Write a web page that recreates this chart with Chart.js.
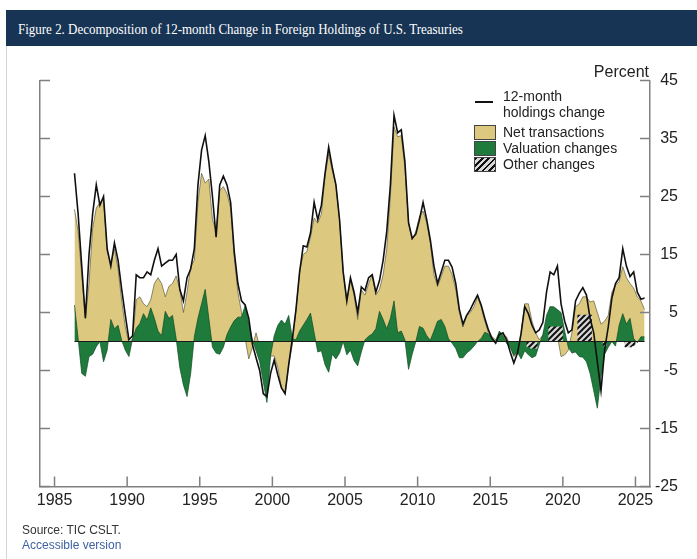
<!DOCTYPE html>
<html>
<head>
<meta charset="utf-8">
<script src="https://cdn.jsdelivr.net/npm/chart.js@4.4.1/dist/chart.umd.min.js"></script>
<style>
  body { margin: 0; width: 697px; height: 559px; position: relative; background: #fff; overflow: hidden; font-family: 'Liberation Sans', Arial, sans-serif; color: #222; }
  .card-edge { position: absolute; left: 6px; top: 10px; bottom: 0; width: 1px; background: #d4d4d4; }
  .header { position: absolute; left: 6px; top: 10px; right: 0; height: 36px; background: #173454; }
  .header span { position: absolute; left: 11.5px; top: 12.4px; font: 14.5px/14px 'Liberation Serif', 'DejaVu Serif', serif; color: #fff; white-space: nowrap; transform: scaleX(0.895); transform-origin: left top; }
  canvas { position: absolute; left: 0; top: 0; }
  .abs { position: absolute; white-space: nowrap; }
  .leg { font-size: 14px; line-height: 16px; color: #222; }
  .sw { position: absolute; left: 474px; width: 20px; height: 13px; border: 1px solid #444; }
  .percent { right: 48px; top: 63.5px; font-size: 16px; line-height: 16px; }
  .note { font-size: 12px; line-height: 14px; left: 22px; }
</style>
</head>
<body>
<div class="card-edge"></div>
<div class="header"><span>Figure 2. Decomposition of 12-month Change in Foreign Holdings of U.S. Treasuries</span></div>
<canvas id="chart" width="697" height="559"></canvas>

<div class="abs percent">Percent</div>

<div class="abs" style="left:475px; top:101.3px; width:18px; height:2px; background:#111;"></div>
<div class="abs leg" style="left:503px; top:87.9px;">12-month<br>holdings change</div>
<div class="sw" style="top:124.5px; background:#dcc97f;"></div>
<div class="abs leg" style="left:503px; top:123.8px;">Net transactions</div>
<div class="sw" style="top:140.5px; background:#1e7b3c;"></div>
<div class="abs leg" style="left:503px; top:139.8px;">Valuation changes</div>
<div class="sw" style="top:156.5px; background:repeating-linear-gradient(135deg, #111 0 2px, #d8d8d8 2px 4.5px);"></div>
<div class="abs leg" style="left:503px; top:156.1px;">Other changes</div>

<div class="abs note" style="top:523px; color:#333;">Source: TIC CSLT.</div>
<div class="abs note" style="top:537.5px; color:#3e62a0;">Accessible version</div>

<script>
// quarterly readings, first point mid-1986, last point mid-2025
const firstDate = 1986.375;

// 12-month holdings change, percent
const holdingsChange = [
  29, 22, 13,                 // 1986
  4, 15, 22, 27,              // 1987
  23.5, 25, 16, 13,           // 1988
  17, 14, 9, 4.5,             // 1989
  0.3, 1, 11.5, 11,           // 1990
  11, 12, 11.5, 14,           // 1991
  16, 13, 13.5, 14,           // 1992
  14, 15, 9, 7,               // 1993
  11, 12.5, 16, 27,           // 1994
  33, 35.5, 31, 25,           // 1995
  18, 27, 28.5, 27,           // 1996
  24, 15.5, 10, 7,            // 1997
  6.3, 4, -0.5, -2.8,         // 1998
  -5, -9, -9.5, -5.5,         // 1999
  -3.2, -5.8, -8, -9,         // 2000
  -4, 0.5, 5.5, 12,           // 2001
  16.5, 16.3, 18.7, 24,       // 2002
  21, 23.5, 29, 33.5,         // 2003
  30, 27, 21, 12,             // 2004
  7, 11, 8.5, 5,              // 2005
  9.4, 8.8, 11, 11.5,         // 2006
  8.5, 10.5, 14, 19,          // 2007
  27, 39, 36, 36.5,           // 2008
  31, 20.5, 17.8, 18.5,       // 2009
  21, 24, 21, 17.5,           // 2010
  13, 10, 12, 14,             // 2011
  14, 12.8, 10, 5.5,          // 2012
  3, 4.5, 5.5, 6.8,           // 2013
  8, 6.3, 4, 2,               // 2014
  0.5, -0.3, 1.2, 1.5,        // 2015
  0.3, -1.8, -3.7, -2,        // 2016
  1.4, 6, 4.8, 2.8,           // 2017
  1.5, 2, 3.3, 8.5,           // 2018
  12, 11.5, 13, 6.5,          // 2019
  3.5, 1.5, 2, 7,             // 2020
  8.3, 9.3, 8, 4,             // 2021
  1.5, -3.5, -8.5, -1.5,      // 2022
  2.5, 7.5, 10, 11,           // 2023
  16, 13, 11.2, 12,           // 2024
  8.5, 7.3, 7.5               // 2025
];

// net transactions contribution
const netTransactions = [
  22.8, 19, 11.5,             // 1986
  4, 10, 19.5, 23,            // 1987
  24, 24.5, 15.5, 13.5,       // 1988
  16, 12.5, 7, 2.5,           // 1989
  -0.3, 0.5, 7.2, 7.7,        // 1990
  6.5, 6, 7.2, 10,            // 1991
  11, 10, 7.7, 9.5,           // 1992
  10, 11.3, 9, 5,             // 1993
  8.5, 12.9, 14, 24,          // 1994
  29, 27.3, 28, 21,           // 1995
  19, 26, 26.7, 25.5,         // 1996
  23, 14.5, 8.5, 5,           // 1997
  0.5, -3, -1, 1.5,           // 1998
  -0.9, -3, -4.3, -2.5,       // 1999
  -2.5, -4.5, -8, -9,         // 2000
  -4, -0.5, 5.5, 12,          // 2001
  15, 15.5, 18, 21.3,         // 2002
  20.4, 22, 28.5, 32.4,       // 2003
  29.5, 27, 21, 12,           // 2004
  7, 10.5, 8, 3.8,            // 2005
  8.9, 8, 10, 11.5,           // 2006
  8, 9, 11.5, 16,             // 2007
  25, 37, 35.3, 35.5,         // 2008
  30, 20.5, 17.5, 19,         // 2009
  21.5, 22.5, 20.5, 17,       // 2010
  11.5, 9.5, 11.2, 13,        // 2011
  13, 11.5, 9, 5,             // 2012
  2.5, 4.5, 5, 6,             // 2013
  7.7, 6, 3.5, 1.5,           // 2014
  0.8, 0.3, 1.5, 1.3,         // 2015
  0.8, -0.8, -2.6, -2,        // 2016
  1.5, 6.5, 6.5, 3.5,         // 2017
  1.5, 0.3, 1.1, 3,           // 2018
  6, 4.5, 1, -2.6,            // 2019
  -2.3, -1.5, 1.5, 6,         // 2020
  6.5, 7.7, 7.7, 6.8,         // 2021
  7, 5, 3, 3.5,               // 2022
  4.5, 8.5, 9.7, 10.3,        // 2023
  12.9, 11, 10, 9.2,          // 2024
  7.7, 7, 5.5                 // 2025
];

// valuation changes contribution
const valuationChanges = [
  6.3, 0.5, -5.5,             // 1986
  -6, -2.6, -2.2, -0.9,       // 1987
  0, -3.5, -1.5, 3.8,         // 1988
  2.2, 2.8, 0.2, -1.5,        // 1989
  -2.6, 0.5, 2.3, 3.1,        // 1990
  4.8, 3.7, 5.8, 4,           // 1991
  1.8, 1, 5.2, 4,             // 1992
  4.5, 0.5, -4.5, -7.5,       // 1993
  -9.5, -5.5, 0.8, 4,         // 1994
  6.5, 9, 4, -1,              // 1995
  -2, -2.2, -1, 1.2,          // 1996
  2.5, 3.6, 4.2, 4.2,         // 1997
  6.2, 3, 0.3, -1.6,          // 1998
  -3.5, -7, -10.5, -2.5,      // 1999
  1, 2.8, 3.7, 3,             // 2000
  4.5, 0.5, 0.3, 1.8,         // 2001
  2.8, 3.8, 4.9, 1.5,         // 2002
  -1.8, -1.6, -4, -5.3,       // 2003
  -2.2, -3, -2, 0,            // 2004
  -2.3, -1.5, -3.3, -4.2,     // 2005
  -1.8, 0.3, 0.9, 1.3,        // 2006
  2.2, 5.2, 3.8, 2.2,         // 2007
  4, 7, 1.5, 1.8,             // 2008
  0.3, -4.8, -2.2, 0,         // 2009
  2.6, 2.3, 1, 0.2,           // 2010
  1.8, 3.5, 3.8, 2.6,         // 2011
  0.5, -0.3, -1.2, -2.8,      // 2012
  -2.8, -2, -1.5, -0.8,       // 2013
  0, 0.5, 1.6, 1.3,           // 2014
  0.5, 0, 1.8, 1,             // 2015
  -0.3, -1, -2.4, -1.8,       // 2016
  -3, -1.6, -2.3, -2.8,       // 2017
  -2.5, -0.5, 1.2, 4.5,       // 2018
  6, 6, 5.5, 5,               // 2019
  1.8, -1, -2, -1.8,          // 2020
  -2.6, -2.7, -3.5, -5.5,     // 2021
  -8.5, -11.5, -6, -2.2,      // 2022
  -1, 0, -0.8, 2.8,           // 2023
  4.8, 3, 4, 0.5,             // 2024
  -0.2, 0.8, 0.8              // 2025
];

// other changes contribution
const otherChanges = [
  0, 0, 0,                    // 1986
  0, 0, 0, 0,  0, 0, 0, 0,  0, 0, 0, 0,  0, 0, 0, 0,        // 1987-1990
  0, 0, 0, 0,  0, 0, 0, 0,  0, 0, 0, 0,  0, 0, 0, 0,        // 1991-1994
  0, 0, 0, 0,  0, 0, 0, 0,  0, 0, 0, 0,  0, 0, 0, 0,        // 1995-1998
  0, 0, 0, 0,  0, 0, 0, 0,  0, 0, 0, 0,  0, 0, 0, 0,        // 1999-2002
  0, 0, 0, 0,  0, 0, 0, 0,  0, 0, 0, 0,  0, 0, 0, 0,        // 2003-2006
  0, 0, 0, 0,  0, 0, 0, 0,  0, 0, 0, 0,  0, 0, 0, 0,        // 2007-2010
  0, 0, 0, 0,  0, 0, 0, 0,  0, 0, 0, 0,  0, 0, 0, 0,        // 2011-2014
  0, 0, 0, 0,  0, 0, 0, 0,                                  // 2015-2016
  0, 0, -1, -1.2,             // 2017
  -1.2, 0, 0, 0,              // 2018
  2.6, 2.6, 2.6, 2.6,         // 2019
  0, 0, 0, 0,                 // 2020
  4.6, 4.6, 4.6, 4.6,         // 2021
  0, 0, 0, -0.8,              // 2022
  0, 0, 0, 0,                 // 2023
  0, -1, -1, -0.8,            // 2024
  0, 0, 0                     // 2025
];

const yearTicks = [1985, 1990, 1995, 2000, 2005, 2010, 2015, 2020, 2025];
const percentTicks = [-25, -15, -5, 5, 15, 25, 35, 45];

const dates = holdingsChange.map((_, i) => firstDate + i * 0.25);
const pts = arr => arr.map((v, i) => ({ x: dates[i], y: v }));

function makeHatch() {
    const c = document.createElement('canvas');
    c.width = 6; c.height = 6;
    const g = c.getContext('2d');
    g.fillStyle = '#d8d8d8';
    g.fillRect(0, 0, 6, 6);
    g.strokeStyle = '#111';
    g.lineWidth = 2;
    g.beginPath();
    g.moveTo(0, 6); g.lineTo(6, 0);
    g.moveTo(-3, 3); g.lineTo(3, -3);
    g.moveTo(3, 9); g.lineTo(9, 3);
    g.stroke();
    return g.createPattern(c, 'repeat');
}

// tick marks on the inside of all three axes
const innerTicks = {
    id: 'innerTicks',
    afterDraw(chart) {
        const { ctx, chartArea: a, scales: { x, y } } = chart;
        ctx.save();
        ctx.strokeStyle = '#808080';
        ctx.lineWidth = 1.5;
        ctx.beginPath();
        y.ticks.forEach(t => {
            const py = y.getPixelForValue(t.value);
            ctx.moveTo(a.left, py); ctx.lineTo(a.left + 10, py);
            ctx.moveTo(a.right - 10, py); ctx.lineTo(a.right, py);
        });
        x.ticks.forEach(t => {
            const px = x.getPixelForValue(t.value);
            ctx.moveTo(px, a.bottom); ctx.lineTo(px, a.bottom - 10);
        });
        ctx.stroke();
        ctx.restore();
    }
};

const axisFont = { family: "'Liberation Sans', Arial, sans-serif", size: 16 };
const axisBorder = { color: '#808080', width: 1.5 };

new Chart(document.getElementById('chart').getContext('2d'), {
    type: 'line',
    data: {
        datasets: [
            {
                label: '12-month holdings change',
                data: pts(holdingsChange),
                borderColor: '#111',
                borderWidth: 1.6,
                pointRadius: 0,
                fill: false,
                order: 0
            },
            {
                label: 'zero',
                data: [{ x: dates[0], y: 0 }, { x: dates[dates.length - 1], y: 0 }],
                borderColor: '#1a1a1a',
                borderWidth: 1.2,
                pointRadius: 0,
                fill: false,
                order: 1
            },
            {
                label: 'Other changes',
                data: pts(otherChanges),
                stepped: 'middle',
                backgroundColor: makeHatch(),
                borderWidth: 0,
                pointRadius: 0,
                fill: 'origin',
                order: 2
            },
            {
                label: 'Valuation changes',
                data: pts(valuationChanges),
                backgroundColor: '#1e7b3c',
                borderColor: '#0f4a22',
                borderWidth: 0.7,
                pointRadius: 0,
                fill: 'origin',
                order: 3
            },
            {
                label: 'Net transactions',
                data: pts(netTransactions),
                backgroundColor: '#dcc97f',
                borderColor: '#5f5a40',
                borderWidth: 0.7,
                pointRadius: 0,
                fill: 'origin',
                order: 4
            }
        ]
    },
    options: {
        responsive: false,
        animation: false,
        layout: { padding: { left: 40, top: 80.5, right: 19, bottom: 0 } },
        plugins: { legend: { display: false }, tooltip: { enabled: false } },
        scales: {
            x: {
                type: 'linear',
                position: 'bottom',
                min: 1984,
                max: 2026,
                afterBuildTicks: s => { s.ticks = yearTicks.map(v => ({ value: v })); },
                afterFit: s => { s.height = 72.5; },
                ticks: { font: axisFont, color: '#222', padding: 4, maxRotation: 0, autoSkip: false, callback: v => String(v) },
                grid: { drawOnChartArea: false, drawTicks: false },
                border: axisBorder
            },
            y: {
                type: 'linear',
                position: 'right',
                min: -25,
                max: 45,
                afterBuildTicks: s => { s.ticks = percentTicks.map(v => ({ value: v })); },
                afterFit: s => { s.width = 28; },
                ticks: { font: axisFont, color: '#222', padding: 6, crossAlign: 'far' },
                grid: { drawOnChartArea: false, drawTicks: false },
                border: axisBorder
            },
            yLeft: {
                type: 'linear',
                position: 'left',
                min: -25,
                max: 45,
                afterFit: s => { s.width = 0; },
                ticks: { display: false },
                grid: { drawOnChartArea: false, drawTicks: false },
                border: axisBorder
            }
        }
    },
    plugins: [innerTicks]
});
</script>
</body>
</html>
